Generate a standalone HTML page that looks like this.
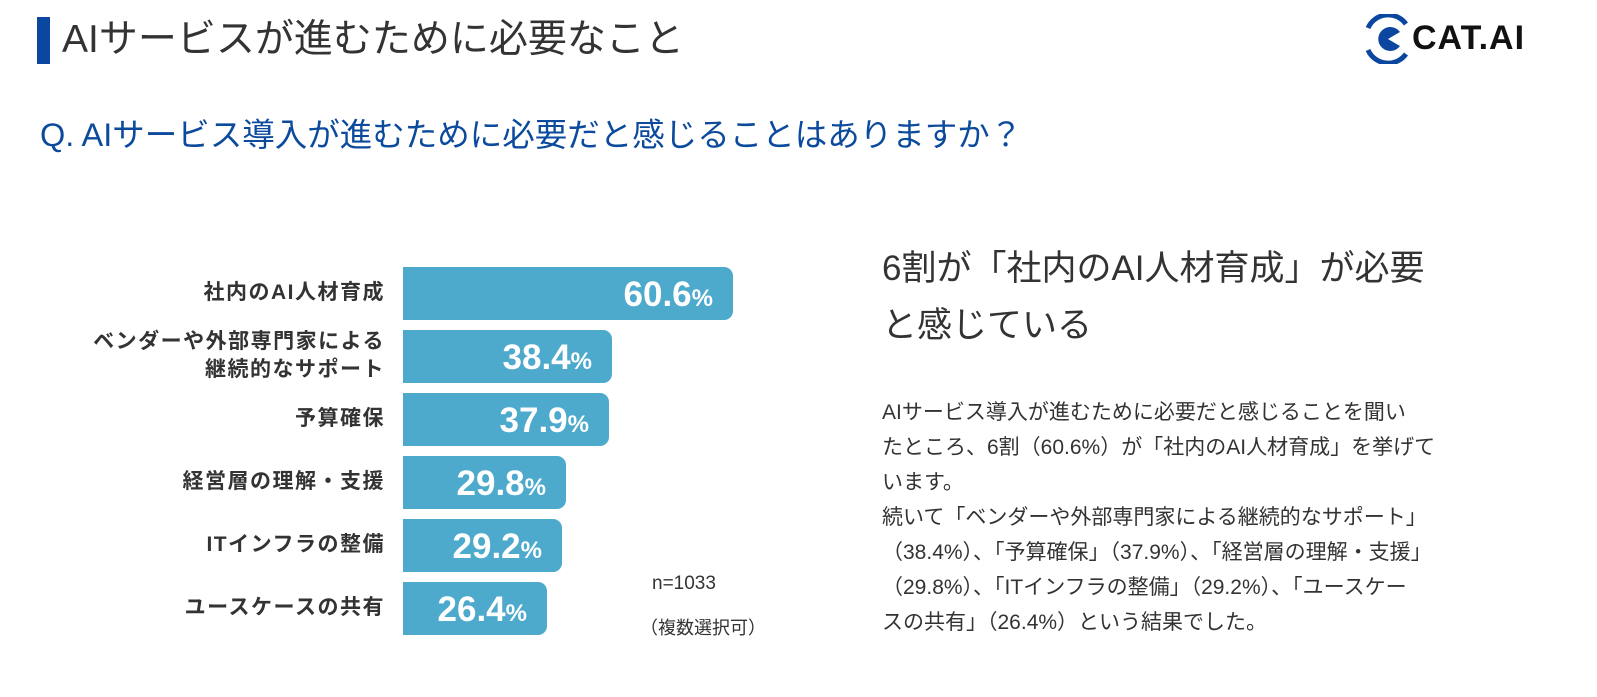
<!DOCTYPE html>
<html><head><meta charset="utf-8">
<style>
body{margin:0;width:1597px;height:697px;background:#fff;overflow:hidden;position:relative;font-family:"Liberation Sans","Noto Sans CJK JP",sans-serif;}
.a{position:absolute;white-space:nowrap;}
.bar{position:absolute;left:403px;height:53px;background:#4eaacc;border-radius:0 9px 9px 0;}
.pv{position:absolute;right:20px;top:0;line-height:55px;color:#fff;font-weight:bold;font-size:35px;}
.pv small{font-size:24px;}
.lab{position:absolute;right:1212px;text-align:right;font-weight:bold;font-size:21px;letter-spacing:1.5px;color:#333;line-height:28px;}
.body{left:882px;font-size:21px;color:#333;line-height:35px;}
</style></head><body>
<div class="a" style="left:37px;top:17px;width:13px;height:47px;background:#0b47a0"></div>
<div class="a" style="left:62px;top:16px;font-size:39px;color:#333;line-height:48px">AIサービスが進むために必要なこと</div>
<div class="a" style="left:40px;top:115px;font-size:32.5px;color:#0b4a9c;line-height:40px">Q. AIサービス導入が進むために必要だと感じることはありますか？</div>
<svg class="a" style="left:1362px;top:14px" width="50" height="50" viewBox="0 0 50 50">
<path d="M6 14 A22 22 0 0 1 44 10" stroke="#0b47a0" stroke-width="5" fill="none"/>
<path d="M6 36 A22 22 0 0 0 44 40" stroke="#0b47a0" stroke-width="5" fill="none"/>
<path d="M38 18 A12 12 0 1 0 38 32 L26 25 Z" fill="#0b47a0"/>
</svg>
<div class="a" style="left:1412px;top:18px;font-size:34px;font-weight:bold;color:#111;line-height:40px;letter-spacing:1px">CAT.AI</div>

<div class="bar" style="top:267px;width:330px"><span class="pv">60.6<small>%</small></span></div>
<div class="bar" style="top:330px;width:209px"><span class="pv">38.4<small>%</small></span></div>
<div class="bar" style="top:393px;width:206px"><span class="pv">37.9<small>%</small></span></div>
<div class="bar" style="top:456px;width:163px"><span class="pv">29.8<small>%</small></span></div>
<div class="bar" style="top:519px;width:159px"><span class="pv">29.2<small>%</small></span></div>
<div class="bar" style="top:582px;width:144px"><span class="pv">26.4<small>%</small></span></div>

<div class="lab" style="top:279px">社内のAI人材育成</div>
<div class="lab" style="top:328px">ベンダーや外部専門家による<br>継続的なサポート</div>
<div class="lab" style="top:405px">予算確保</div>
<div class="lab" style="top:468px">経営層の理解・支援</div>
<div class="lab" style="top:531px">ITインフラの整備</div>
<div class="lab" style="top:594px">ユースケースの共有</div>

<div class="a" style="left:652px;top:573px;font-size:19px;color:#333">n=1033</div>
<div class="a" style="left:640px;top:614px;font-size:18px;color:#333">（複数選択可）</div>

<div class="a" style="left:882px;top:240px;font-size:35px;color:#333;line-height:57px">6割が「社内のAI人材育成」が必要<br>と感じている</div>
<div class="a body" style="top:395px">AIサービス導入が進むために必要だと感じることを聞い<br>たところ、6割（60.6%）が「社内のAI人材育成」を挙げて<br>います。<br>続いて「ベンダーや外部専門家による継続的なサポート」<br>（38.4%）、「予算確保」（37.9%）、「経営層の理解・支援」<br>（29.8%）、「ITインフラの整備」（29.2%）、「ユースケー<br>スの共有」（26.4%）という結果でした。</div>
</body></html>
